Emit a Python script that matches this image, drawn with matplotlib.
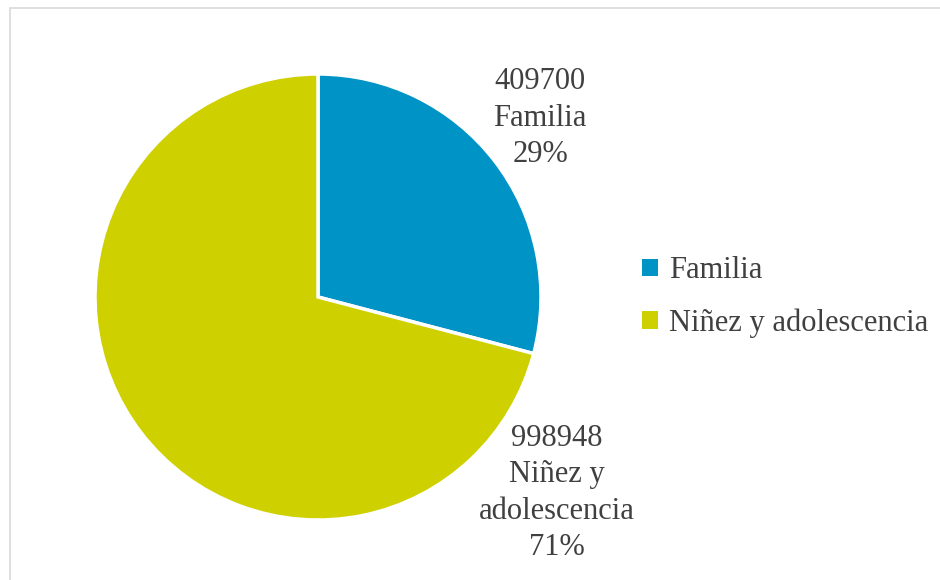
import matplotlib.pyplot as plt
from matplotlib.patches import Rectangle

# data
categories = ['Familia', 'Niñez y adolescencia']
values = [409700, 998948]
colors = ['#0093C6', '#CFD000']

W, H = 940, 580
fig = plt.figure(figsize=(W / 100, H / 100), dpi=100)
ax = fig.add_axes([0, 0, 1, 1])

plt.rcParams['font.family'] = ['Liberation Serif', 'DejaVu Serif']
txt_color = '#404040'

# chart frame (partly outside the picture)
ax.add_patch(Rectangle((10, -10), W + 20, H - 8 + 10, fill=False,
                       edgecolor='#D9D9D9', linewidth=1.2))

cx, cy, r = 318, H - 297, 223
wedges, _ = ax.pie(values, colors=colors, startangle=90, counterclock=False,
                   center=(cx, cy), radius=r, frame=True,
                   wedgeprops=dict(edgecolor='white', linewidth=2.5))
ax.set_xlim(0, W)
ax.set_ylim(0, H)
ax.set_aspect('equal')
ax.axis('off')

total = sum(values)
pcts = [round(v / total * 100) for v in values]
label_pos = [(540, H - 118), (557, H - 493)]
for (lx, ly), v, c, p in zip(label_pos, values, categories, pcts):
    name = c if c == 'Familia' else 'Niñez y\nadolescencia'
    ax.text(lx, ly, f'{v}\n{name}\n{p}%', ha='center', va='center',
            fontsize=22, color=txt_color, linespacing=1.32)

leg = ax.legend(wedges, categories, loc='center left',
                bbox_to_anchor=(630 / W, 1 - 297 / H), frameon=False,
                fontsize=22, handlelength=0.52, handleheight=0.52,
                handletextpad=0.35, labelspacing=0.75, borderaxespad=0)
for t in leg.get_texts():
    t.set_color(txt_color)
for h in leg.legend_handles:
    h.set_edgecolor('none')
    h.set_linewidth(0)

fig.savefig('out.png', dpi=100)
